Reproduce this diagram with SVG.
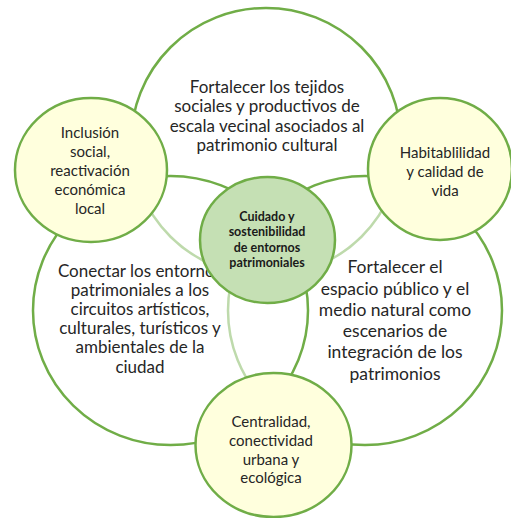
<svg xmlns="http://www.w3.org/2000/svg" width="511" height="518" viewBox="0 0 511 518">
<style>
.big{fill:#ffffff;stroke:#70AD47;stroke-width:2.5}
.ov{fill:#ffffff;fill-opacity:0.55;stroke:#70AD47;stroke-width:2.5}
.small{fill:#FFFFDD;stroke:#70AD47;stroke-width:2.5}
.core{fill:#C5E0B4;stroke:#70AD47;stroke-width:2.5}
text{font-family:Lato,"Liberation Sans",sans-serif;fill:#262626;text-anchor:middle}
.t17{font-size:17px}
.t18{font-size:17.5px}
.t15{font-size:15px}
.tc{font-size:12.5px;font-weight:bold;fill:#1a1a1a}
</style>
<rect width="511" height="518" fill="#ffffff"/>
<g id="top-circle">
<ellipse class="big" cx="266" cy="142" rx="135" ry="134"/>
<text class="t17"><tspan x="267" y="93">Fortalecer los tejidos</tspan><tspan x="267" y="112">sociales y productivos de</tspan><tspan x="267" y="131.5">escala vecinal asociados al</tspan><tspan x="267" y="150.5">patrimonio cultural</tspan></text>
</g>
<g id="right-circle">
<ellipse class="ov" cx="365" cy="310.5" rx="137" ry="134.5"/>
<text class="t18"><tspan x="395" y="273">Fortalecer el</tspan><tspan x="395" y="294.5">espacio público y el</tspan><tspan x="395" y="316">medio natural como</tspan><tspan x="395" y="337">escenarios de</tspan><tspan x="395" y="358">integración de los</tspan><tspan x="395" y="379.5">patrimonios</tspan></text>
</g>
<g id="left-circle">
<ellipse class="ov" cx="170.5" cy="310.5" rx="137.5" ry="134.5"/>
<text class="t17"><tspan x="140" y="277">Conectar los entornos</tspan><tspan x="140" y="296">patrimoniales a los</tspan><tspan x="140" y="315">circuitos artísticos,</tspan><tspan x="140" y="334">culturales, turísticos y</tspan><tspan x="140" y="353">ambientales de la</tspan><tspan x="140" y="372.5">ciudad</tspan></text>
</g>
<g id="inclusion">
<ellipse class="small" cx="91" cy="170" rx="76" ry="72"/>
<text class="t15"><tspan x="90" y="138">Inclusión</tspan><tspan x="90" y="157">social,</tspan><tspan x="90" y="176">reactivación</tspan><tspan x="90" y="195">económica</tspan><tspan x="90" y="213.5">local</tspan></text>
</g>
<g id="habitabilidad">
<ellipse class="small" cx="440" cy="169" rx="72" ry="71"/>
<text class="t15"><tspan x="445" y="158">Habitablilidad</tspan><tspan x="445" y="177">y calidad de</tspan><tspan x="445" y="195.5">vida</tspan></text>
</g>
<g id="centralidad">
<ellipse class="small" cx="273.5" cy="445" rx="78" ry="72"/>
<text class="t15"><tspan x="271" y="426.5">Centralidad,</tspan><tspan x="271" y="445.5">conectividad</tspan><tspan x="271" y="464.5">urbana y</tspan><tspan x="271" y="483">ecológica</tspan></text>
</g>
<g id="cuidado">
<ellipse class="core" cx="267.5" cy="240" rx="67.5" ry="63"/>
<text class="tc"><tspan x="267" y="220.5">Cuidado y</tspan><tspan x="267" y="236">sostenibilidad</tspan><tspan x="267" y="251.5">de entornos</tspan><tspan x="267" y="267">patrimoniales</tspan></text>
</g>
<g id="connectors"/>
</svg>
